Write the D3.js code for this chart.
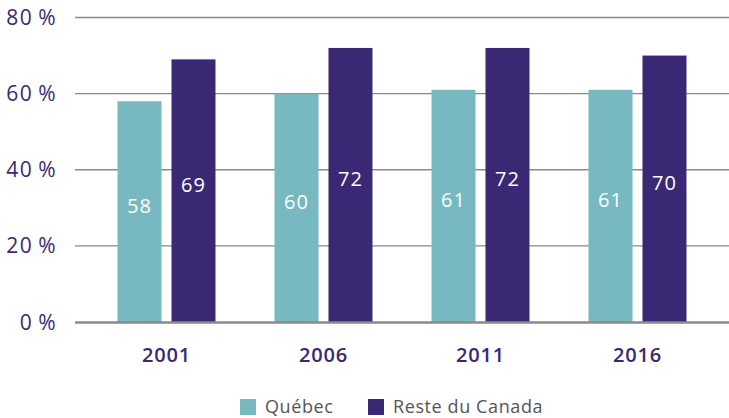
<!DOCTYPE html>
<html>
<head>
<meta charset="utf-8">
<script src="https://cdn.jsdelivr.net/npm/d3@7"></script>
<style>
  body { margin: 0; background: #fff; }
  text { font-family: "Open Sans", "Noto Sans", sans-serif; }
</style>
</head>
<body>
<div id="chart"></div>
<script>
const years = ['2001', '2006', '2011', '2016'];
const quebec = [58, 60, 61, 61];
const resteCanada = [69, 72, 72, 70];
const series = ['Québec', 'Reste du Canada'];
const colors = ['#77b8c1', '#3a2875'];
const yTicks = [0, 20, 40, 60, 80];

const width = 729, height = 418;

const svg = d3.select('#chart').append('svg')
    .attr('width', width)
    .attr('height', height);

const xScale = d3.scaleBand()
    .domain(years)
    .range([88, 716])
    .paddingInner(0.376)
    .paddingOuter(0.188);

const xSub = d3.scaleBand()
    .domain(series)
    .range([0, xScale.bandwidth()])
    .paddingInner(0.185);

const yScale = d3.scaleLinear()
    .domain([0, 80])
    .range([322, 17.5]);

// gridlines
svg.append('g').selectAll('line')
    .data(yTicks.filter(d => d > 0))
  .join('line')
    .attr('x1', 75).attr('x2', 729)
    .attr('y1', d => yScale(d)).attr('y2', d => yScale(d))
    .attr('stroke', '#8a8a8a')
    .attr('stroke-width', 1.3);

// y labels
svg.append('g').selectAll('text')
    .data(yTicks)
  .join('text')
    .attr('x', 57)
    .attr('y', d => yScale(d))
    .attr('dy', '0.36em')
    .attr('text-anchor', 'end')
    .attr('fill', '#3a2875')
    .attr('font-size', 21)
    .attr('letter-spacing', 1.5)
    .text(d => d + '\u2009%');

const data = years.map((y, i) => ({year: y, values: [quebec[i], resteCanada[i]]}));

const groups = svg.append('g').selectAll('g')
    .data(data)
  .join('g')
    .attr('transform', d => `translate(${xScale(d.year)},0)`);

groups.selectAll('rect')
    .data(d => d.values.map((v, j) => ({key: series[j], value: v, j})))
  .join('rect')
    .attr('x', d => xSub(d.key))
    .attr('width', xSub.bandwidth())
    .attr('y', d => yScale(d.value))
    .attr('height', d => yScale(0) - yScale(d.value))
    .attr('fill', d => colors[d.j]);

groups.selectAll('text')
    .data(d => d.values.map((v, j) => ({key: series[j], value: v, j})))
  .join('text')
    .attr('x', d => xSub(d.key) + xSub.bandwidth() / 2)
    .attr('y', d => (yScale(d.value) + yScale(0)) / 2 - 6)
    .attr('dy', '0.36em')
    .attr('text-anchor', 'middle')
    .attr('fill', '#fff')
    .attr('font-size', 20)
    .attr('letter-spacing', 1)
    .text(d => d.value);

// baseline
svg.append('line')
    .attr('x1', 75).attr('x2', 729)
    .attr('y1', yScale(0) + 0.5).attr('y2', yScale(0) + 0.5)
    .attr('stroke', '#8a8a8a')
    .attr('stroke-width', 2.5);

// x labels
svg.append('g').selectAll('text')
    .data(years)
  .join('text')
    .attr('x', d => xScale(d) + xScale.bandwidth() / 2)
    .attr('y', 355)
    .attr('dy', '0.36em')
    .attr('text-anchor', 'middle')
    .attr('fill', '#3a2875')
    .attr('font-size', 20)
    .attr('font-weight', 600)
    .attr('letter-spacing', 0.8)
    .text(d => d);

// legend
const legendX = [240, 368];
const legend = svg.append('g').selectAll('g')
    .data(series)
  .join('g')
    .attr('transform', (d, i) => `translate(${legendX[i]},399)`);

legend.append('rect')
    .attr('width', 16).attr('height', 16)
    .attr('fill', (d, i) => colors[i]);

legend.append('text')
    .attr('x', 25)
    .attr('y', 8)
    .attr('dy', '0.36em')
    .attr('fill', '#555')
    .attr('font-size', 18)
    .attr('letter-spacing', 0.6)
    .text(d => d);
</script>
</body>
</html>
